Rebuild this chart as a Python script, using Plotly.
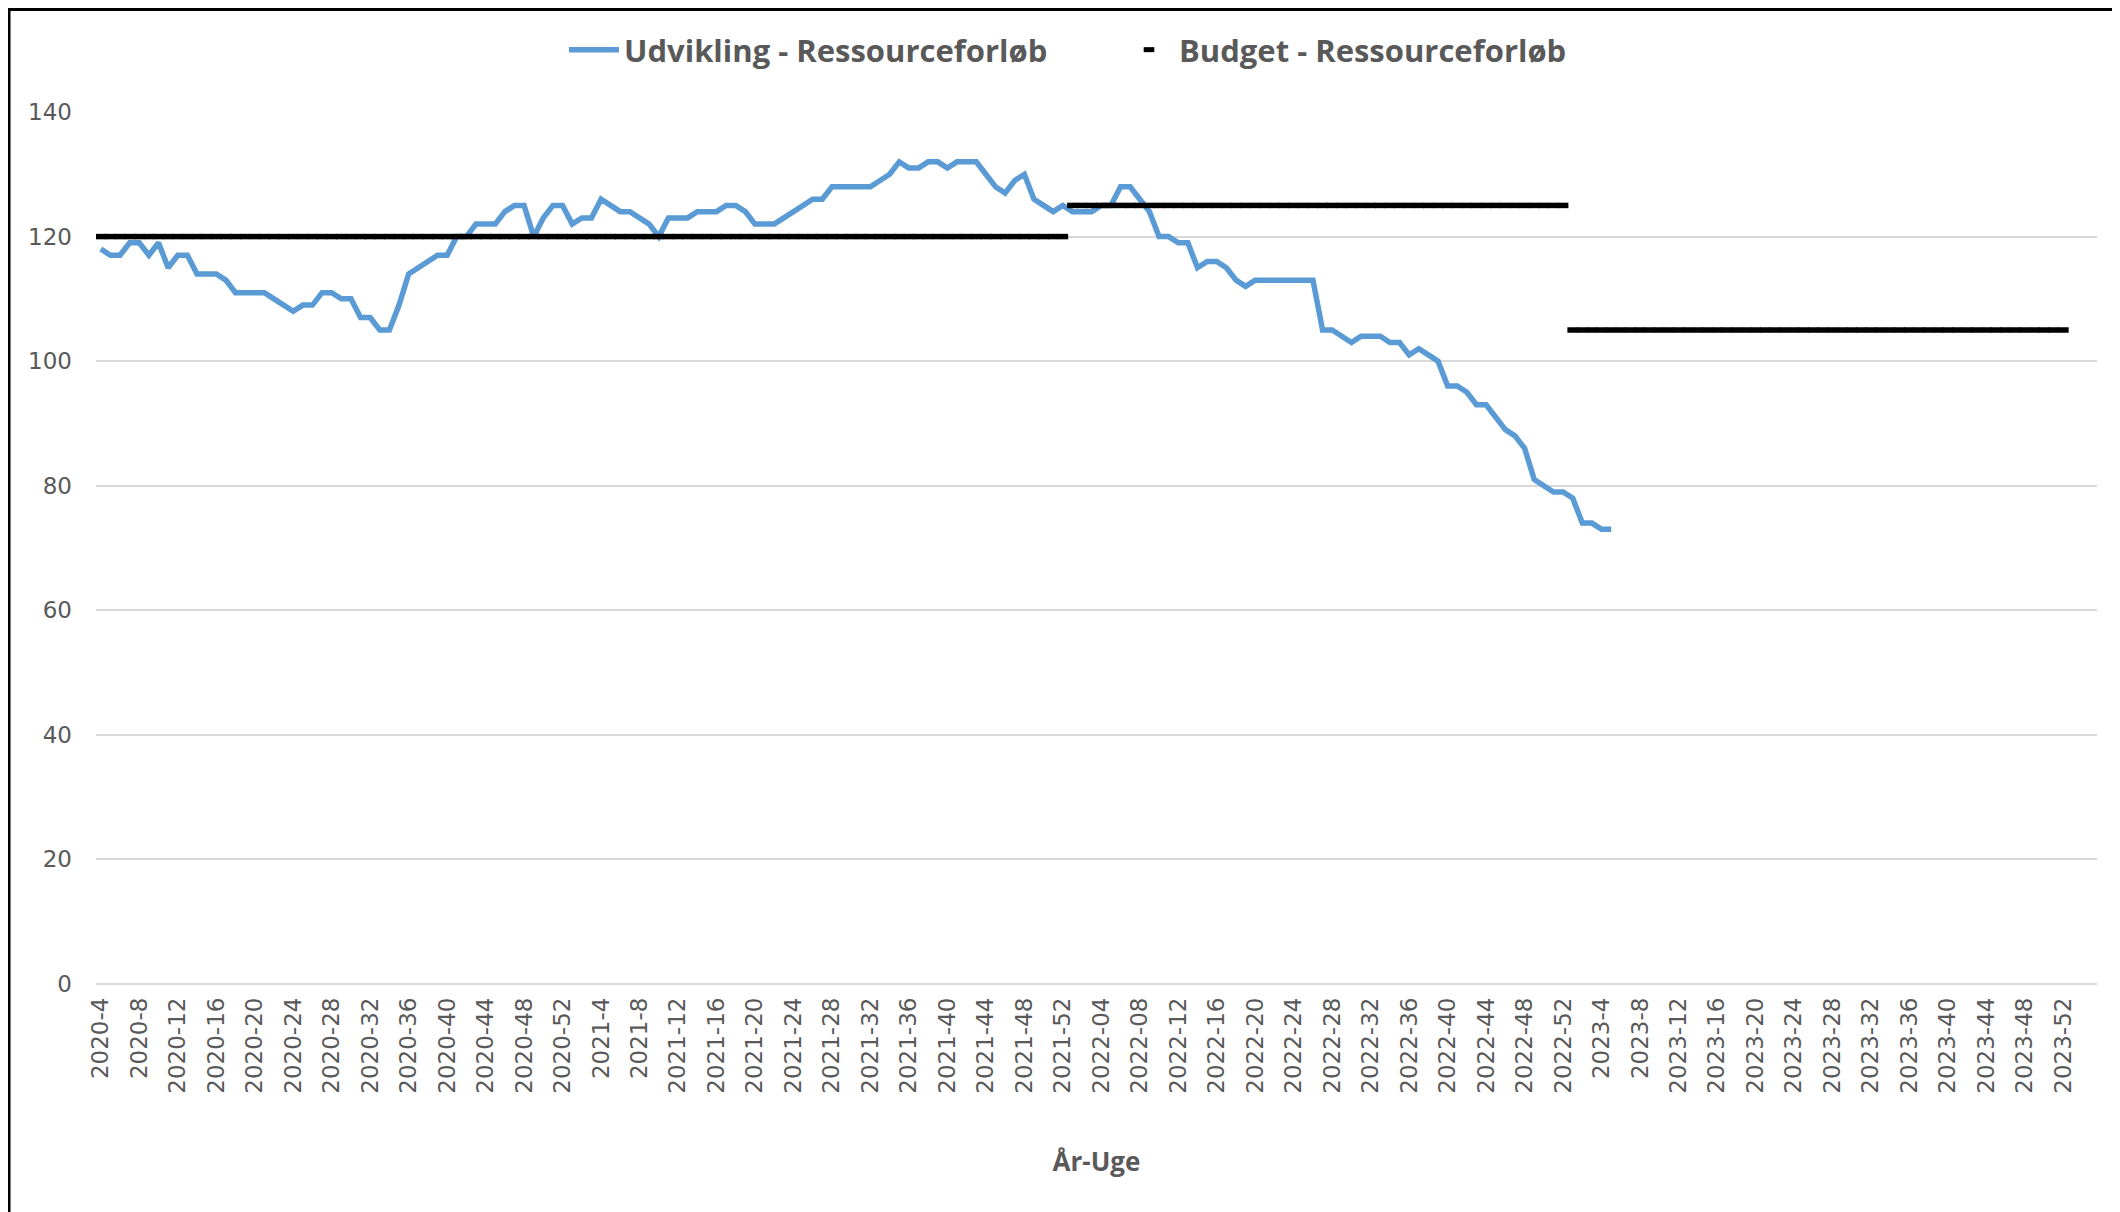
"""Udvikling vs. budget for ressourceforløb, uge for uge 2020-2023."""

import plotly.graph_objects as go

# x categories: year-week, 2020-4 .. 2023-52 (2022 weeks are zero padded in the source)
years = [2020, 2021, 2022, 2023]
first_week = {2020: 4, 2021: 1, 2022: 1, 2023: 1}
weeks = []
for yr in years:
    for w in range(first_week[yr], 53):
        weeks.append(f"{yr}-{w:02d}" if yr == 2022 else f"{yr}-{w}")

# weekly development, 2020-4 .. 2023-5
udvikling = [
    118, 117, 117, 119, 119, 117, 119, 115, 117, 117,
    114, 114, 114, 113, 111, 111, 111, 111, 110, 109,
    108, 109, 109, 111, 111, 110, 110, 107, 107, 105,
    105, 109, 114, 115, 116, 117, 117, 120, 120, 122,
    122, 122, 124, 125, 125, 120, 123, 125, 125, 122,
    123, 123, 126, 125, 124, 124, 123, 122, 120, 123,
    123, 123, 124, 124, 124, 125, 125, 124, 122, 122,
    122, 123, 124, 125, 126, 126, 128, 128, 128, 128,
    128, 129, 130, 132, 131, 131, 132, 132, 131, 132,
    132, 132, 130, 128, 127, 129, 130, 126, 125, 124,
    125, 124, 124, 124, 125, 125, 128, 128, 126, 124,
    120, 120, 119, 119, 115, 116, 116, 115, 113, 112,
    113, 113, 113, 113, 113, 113, 113, 105, 105, 104,
    103, 104, 104, 104, 103, 103, 101, 102, 101, 100,
    96, 96, 95, 93, 93, 91, 89, 88, 86, 81,
    80, 79, 79, 78, 74, 74, 73, 73,
]

# yearly budget level
budget_level = {2020: 120, 2021: 120, 2022: 125, 2023: 105}
budget = []
for yr in years:
    budget += [budget_level[yr]] * (53 - first_week[yr])

y_ticks = [0, 20, 40, 60, 80, 100, 120, 140]

GREY = "#595959"

fig = go.Figure()

fig.add_trace(
    go.Scatter(
        x=weeks[: len(udvikling)],
        y=udvikling,
        mode="lines",
        name="Udvikling - Ressourceforløb",
        line=dict(color="#5B9BD5", width=5.5),
    )
)

fig.add_trace(
    go.Scatter(
        x=weeks,
        y=budget,
        mode="markers",
        name="Budget - Ressourceforløb",
        marker=dict(
            symbol="line-ew",
            size=7.6,
            color="black",
            line=dict(color="black", width=5.5),
        ),
    )
)

# the page body has an 8px default margin, so the figure is 8px smaller
# and all pixel positions below are page positions minus 8
OFF = 8
W, H = 2120 - OFF, 1212 - OFF
L, R, T, B = 96 - OFF, 23, 112 - OFF, 228
pw, ph = W - L - R, H - T - B


def px_x(p):
    return (p - OFF - L) / pw


def px_y(p):
    return (H - B - (p - OFF)) / ph


# chart border (top and left edges of the screenshot)
fig.add_shape(type="line", xref="paper", yref="paper",
              x0=px_x(OFF), x1=px_x(2120), y0=px_y(OFF + 1.5), y1=px_y(OFF + 1.5),
              line=dict(color="black", width=3))
fig.add_shape(type="line", xref="paper", yref="paper",
              x0=px_x(9), x1=px_x(9), y0=px_y(OFF), y1=px_y(1212),
              line=dict(color="black", width=3))

fig.update_layout(
    width=W,
    height=H,
    margin=dict(l=L, r=R, t=T, b=B, autoexpand=False),
    paper_bgcolor="white",
    plot_bgcolor="white",
    showlegend=True,
    legend=dict(
        orientation="h",
        x=px_x(564),
        xanchor="left",
        y=px_y(50),
        yanchor="middle",
        font=dict(family="Open Sans", size=31, color=GREY, weight=700),
        entrywidth=490,
        itemwidth=50,
    ),
)

fig.update_xaxes(
    type="category",
    range=[-0.5, 207.5],
    tickmode="array",
    tickvals=weeks[::4],
    tickangle=-90,
    tickfont=dict(family="DejaVu Sans", size=23, color=GREY),
    ticklabelstandoff=8,
    showgrid=False,
    showline=False,
    ticks="",
    title=dict(
        text="År-Uge",
        font=dict(family="Open Sans", size=26, color=GREY, weight=700),
        standoff=60,
    ),
)

fig.update_yaxes(
    range=[0, 140],
    tickmode="array",
    tickvals=y_ticks,
    tickfont=dict(family="DejaVu Sans", size=23, color=GREY),
    ticklabelstandoff=23,
    showgrid=True,
    gridcolor="#D9D9D9",
    gridwidth=2,
    zeroline=True,
    zerolinecolor="#D9D9D9",
    zerolinewidth=2,
    showline=False,
    ticks="",
)

fig.write_html("out.html")
